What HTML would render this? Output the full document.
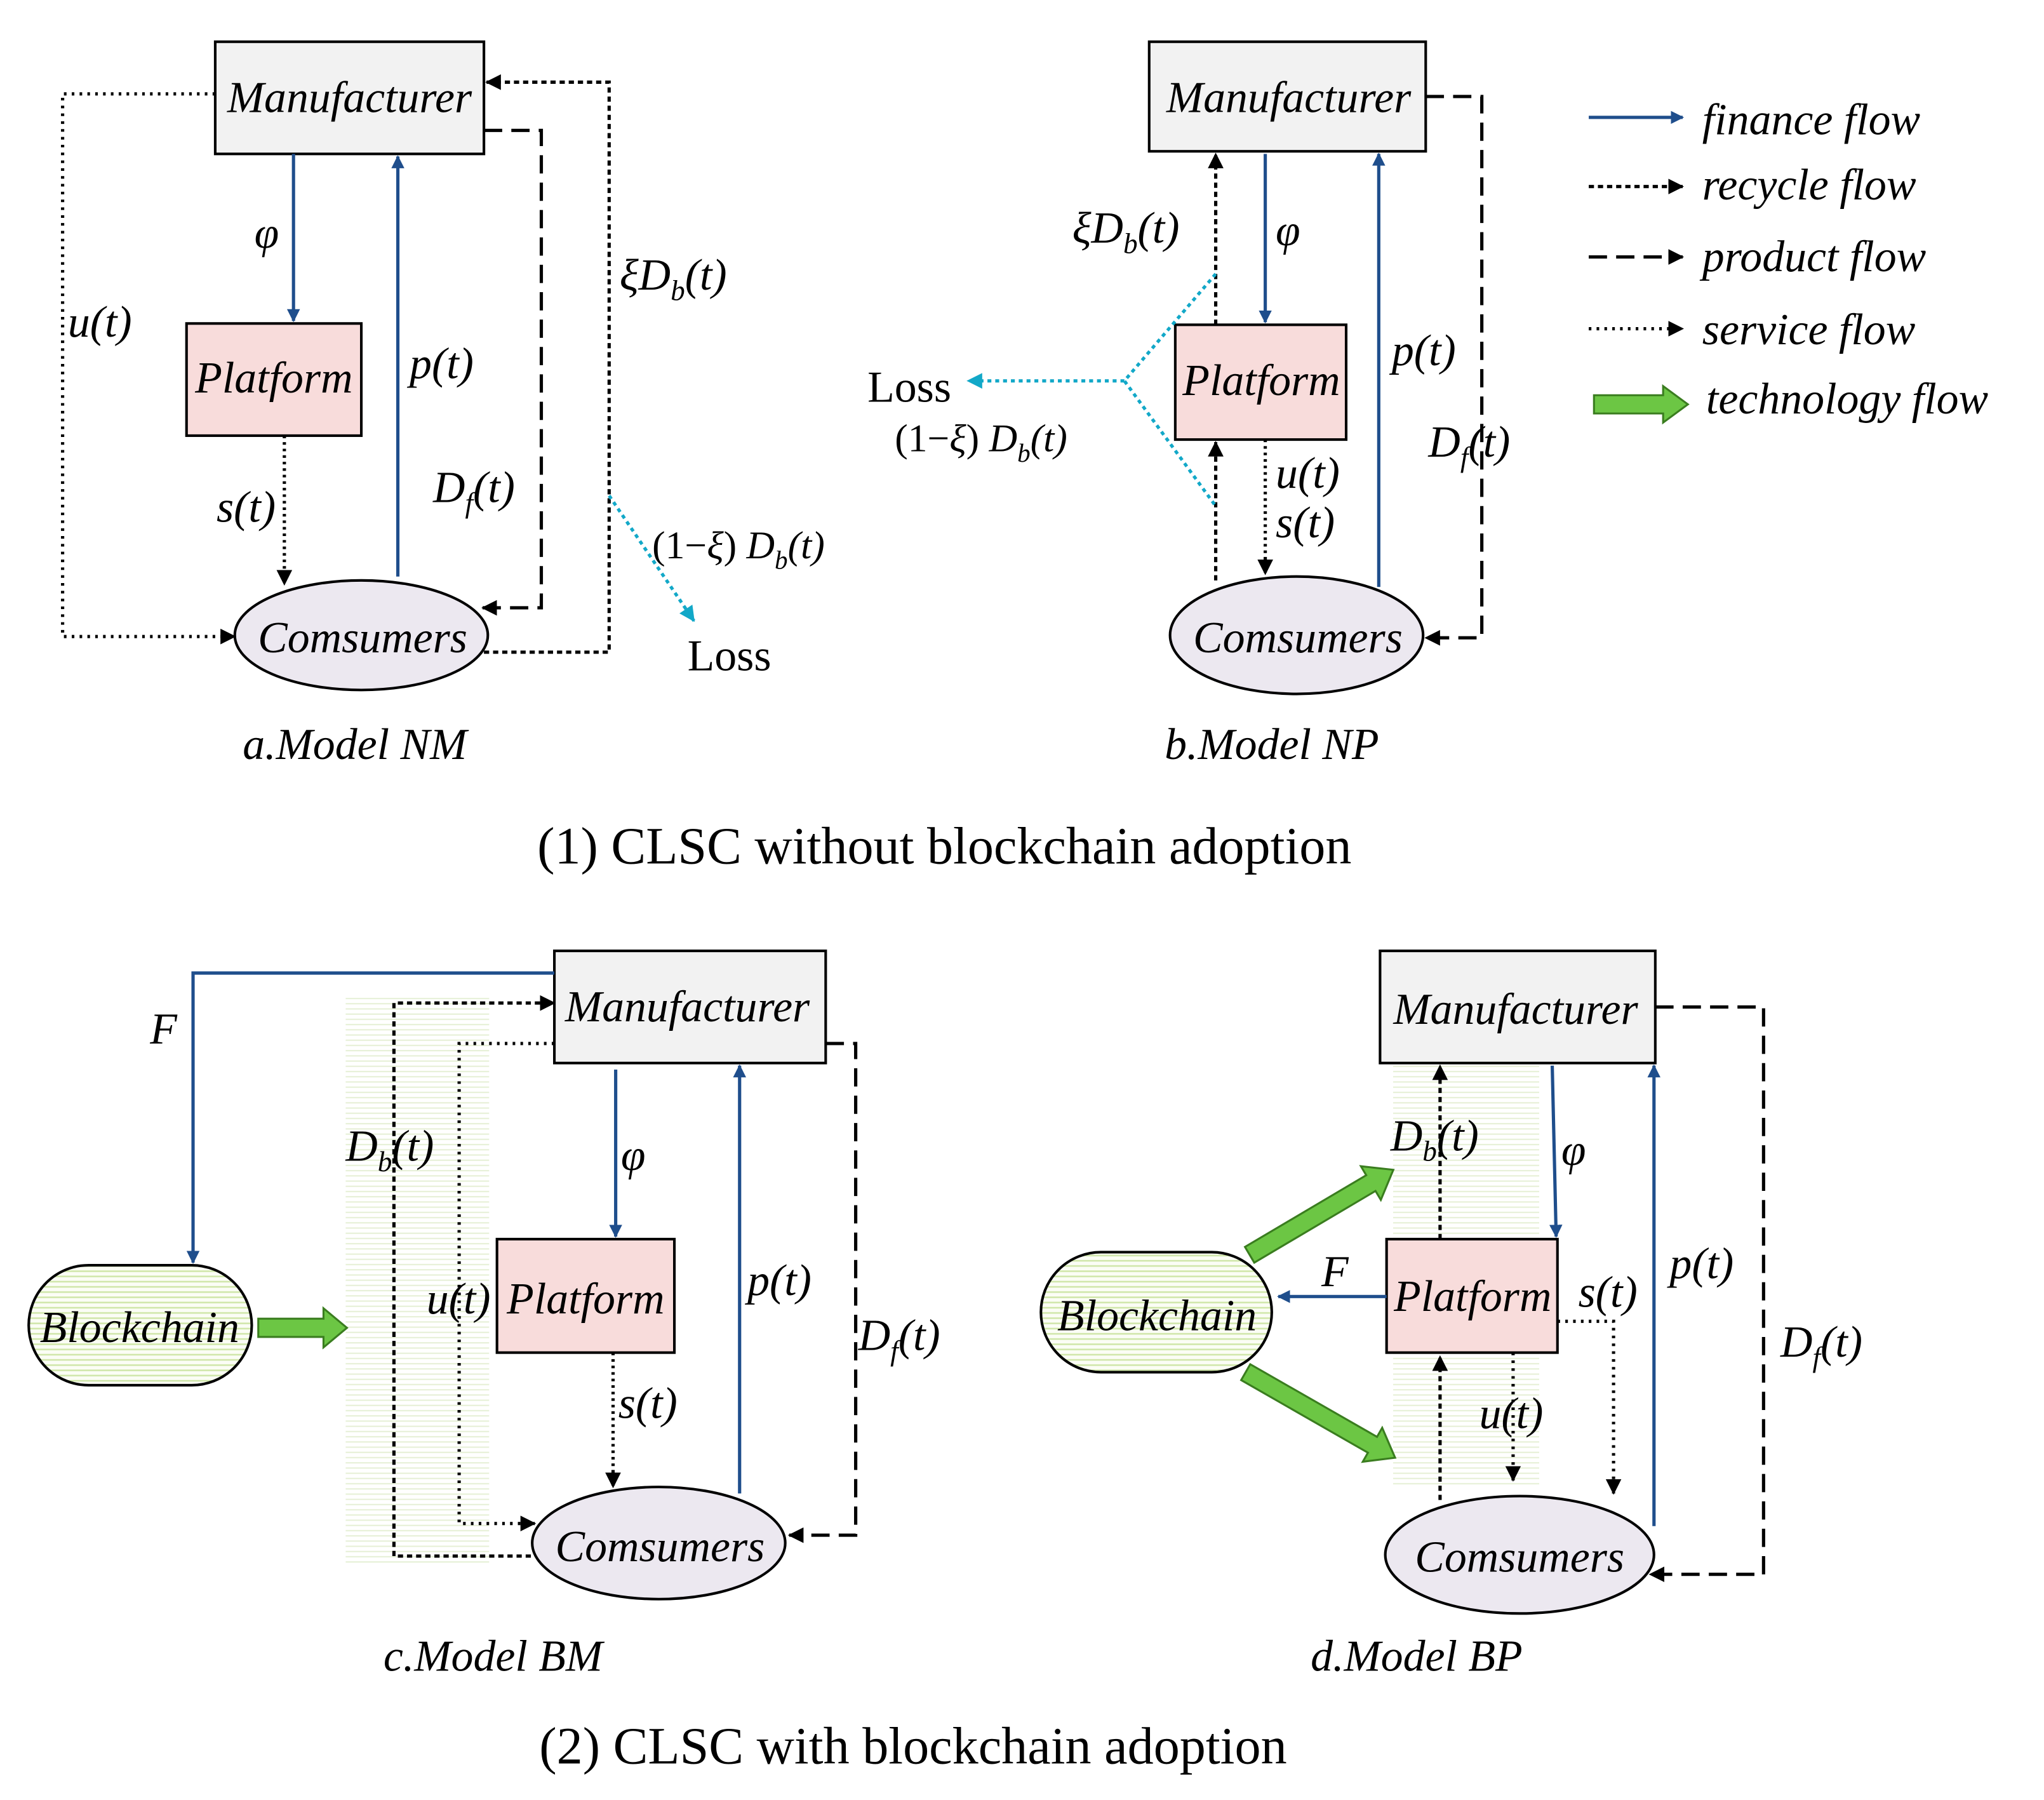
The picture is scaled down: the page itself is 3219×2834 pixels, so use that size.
<!DOCTYPE html>
<html><head><meta charset="utf-8">
<style>
html,body{margin:0;padding:0;background:#fff;}
svg{display:block;}
text{font-family:"Liberation Serif",serif;}
.i{font-style:italic;}
</style></head><body>
<svg width="3219" height="2834" viewBox="0 0 1567 1380" preserveAspectRatio="none" xmlns="http://www.w3.org/2000/svg">
<defs>
<marker id="ab" markerWidth="10" markerHeight="10" refX="9" refY="5" orient="auto" markerUnits="userSpaceOnUse"><path d="M0,0 L10,5 L0,10 z" fill="#1f4e8c"/></marker>
<marker id="ak" markerWidth="12" markerHeight="12" refX="11" refY="6" orient="auto" markerUnits="userSpaceOnUse"><path d="M0,0 L12,6 L0,12 z" fill="#000"/></marker>
<marker id="ac" markerWidth="12" markerHeight="12" refX="11" refY="6" orient="auto" markerUnits="userSpaceOnUse"><path d="M0,0 L12,6 L0,12 z" fill="#12a8c8"/></marker>
<pattern id="st" width="6" height="4" patternUnits="userSpaceOnUse"><rect width="6" height="4" fill="#fbfdf5"/><rect y="2" width="6" height="1.2" fill="#cfe6a8"/></pattern>
<pattern id="sh" width="4" height="4" patternUnits="userSpaceOnUse"><rect width="4" height="4" fill="#fff"/><rect y="1" width="4" height="1" fill="#e6f0d6"/></pattern>
</defs>
<g fill="none" stroke-width="2.5">
<rect x="165" y="32" width="206" height="86" fill="#f2f2f2" stroke="#000" stroke-width="2"/>
<rect x="143" y="248" width="134" height="86" fill="#f8dcdb" stroke="#000" stroke-width="2"/>
<ellipse cx="277" cy="487" rx="97" ry="42" fill="#ece8f0" stroke="#000" stroke-width="2"/>
<line x1="225" y1="118" x2="225" y2="246" stroke="#1f4e8c" marker-end="url(#ab)"/>
<line x1="305" y1="442" x2="305" y2="120" stroke="#1f4e8c" marker-end="url(#ab)"/>
<line x1="218" y1="334" x2="218" y2="448" stroke="#000" stroke-dasharray="2,3" marker-end="url(#ak)"/>
<polyline points="165,72 48,72 48,488 180,488" stroke="#000" stroke-dasharray="2,4" marker-end="url(#ak)"/>
<polyline points="371,100 415,100 415,466 370,466" stroke="#000" stroke-dasharray="14,7" marker-end="url(#ak)"/>
<polyline points="371,500 467,500 467,63 373,63" stroke="#000" stroke-dasharray="4,3" marker-end="url(#ak)"/>
<line x1="467" y1="380" x2="532" y2="476" stroke="#12a8c8" stroke-dasharray="3,3" marker-end="url(#ac)"/>
<rect x="881" y="32" width="212" height="84" fill="#f2f2f2" stroke="#000" stroke-width="2"/>
<rect x="901" y="249" width="131" height="88" fill="#f8dcdb" stroke="#000" stroke-width="2"/>
<ellipse cx="994" cy="487" rx="97" ry="45" fill="#ece8f0" stroke="#000" stroke-width="2"/>
<line x1="932" y1="445" x2="932" y2="339" stroke="#000" stroke-dasharray="4,3" marker-end="url(#ak)"/>
<line x1="932" y1="249" x2="932" y2="118" stroke="#000" stroke-dasharray="4,3" marker-end="url(#ak)"/>
<polyline points="932,210 862,292 932,388" stroke="#12a8c8" stroke-dasharray="3,3"/>
<line x1="862" y1="292" x2="742" y2="292" stroke="#12a8c8" stroke-dasharray="3,3" marker-end="url(#ac)"/>
<line x1="970" y1="118" x2="970" y2="247" stroke="#1f4e8c" marker-end="url(#ab)"/>
<line x1="1057" y1="450" x2="1057" y2="118" stroke="#1f4e8c" marker-end="url(#ab)"/>
<line x1="970" y1="337" x2="970" y2="440" stroke="#000" stroke-dasharray="2,3" marker-end="url(#ak)"/>
<polyline points="1093,74 1136,74 1136,489 1093,489" stroke="#000" stroke-dasharray="14,7" marker-end="url(#ak)"/>
<line x1="1218" y1="90" x2="1290" y2="90" stroke="#1f4e8c" marker-end="url(#ab)"/>
<line x1="1218" y1="143" x2="1290" y2="143" stroke="#000" stroke-dasharray="4,3" marker-end="url(#ak)"/>
<line x1="1218" y1="197" x2="1290" y2="197" stroke="#000" stroke-dasharray="14,7" marker-end="url(#ak)"/>
<line x1="1218" y1="252" x2="1290" y2="252" stroke="#000" stroke-dasharray="2,4" marker-end="url(#ak)"/>
<polygon points="1222,303 1275,303 1275,296 1294,310 1275,324 1275,317 1222,317" fill="#6cc644" stroke="#3a7d1f" stroke-width="1.5"/>
<rect x="265" y="765" width="110" height="435" fill="url(#sh)" stroke="none"/>
<rect x="425" y="729" width="208" height="86" fill="#f2f2f2" stroke="#000" stroke-width="2"/>
<rect x="381" y="950" width="136" height="87" fill="#f8dcdb" stroke="#000" stroke-width="2"/>
<ellipse cx="505" cy="1183" rx="97" ry="43" fill="#ece8f0" stroke="#000" stroke-width="2"/>
<rect x="22" y="970" width="171" height="92" rx="46" fill="url(#st)" stroke="#000" stroke-width="2"/>
<polyline points="425,746 148,746 148,968" stroke="#1f4e8c" marker-end="url(#ab)"/>
<polygon points="198,1011 248,1011 248,1003 266,1018 248,1033 248,1025 198,1025" fill="#6cc644" stroke="#3a7d1f" stroke-width="1.5"/>
<polyline points="407,1193 302,1193 302,769 425,769" stroke="#000" stroke-dasharray="4,3" marker-end="url(#ak)"/>
<polyline points="425,800 352,800 352,1168 410,1168" stroke="#000" stroke-dasharray="2,4" marker-end="url(#ak)"/>
<line x1="472" y1="820" x2="472" y2="948" stroke="#1f4e8c" marker-end="url(#ab)"/>
<line x1="567" y1="1145" x2="567" y2="817" stroke="#1f4e8c" marker-end="url(#ab)"/>
<line x1="470" y1="1037" x2="470" y2="1140" stroke="#000" stroke-dasharray="2,3" marker-end="url(#ak)"/>
<polyline points="633,800 656,800 656,1177 605,1177" stroke="#000" stroke-dasharray="14,7" marker-end="url(#ak)"/>
<rect x="1068" y="815" width="112" height="325" fill="url(#sh)" stroke="none"/>
<rect x="1058" y="729" width="211" height="86" fill="#f2f2f2" stroke="#000" stroke-width="2"/>
<rect x="1063" y="950" width="131" height="87" fill="#f8dcdb" stroke="#000" stroke-width="2"/>
<ellipse cx="1165" cy="1192" rx="103" ry="45" fill="#ece8f0" stroke="#000" stroke-width="2"/>
<rect x="798" y="960" width="177" height="92" rx="46" fill="url(#st)" stroke="#000" stroke-width="2"/>
<line x1="1104" y1="1150" x2="1104" y2="1040" stroke="#000" stroke-dasharray="4,3" marker-end="url(#ak)"/>
<line x1="1104" y1="950" x2="1104" y2="817" stroke="#000" stroke-dasharray="4,3" marker-end="url(#ak)"/>
<line x1="1190" y1="817" x2="1193" y2="948" stroke="#1f4e8c" marker-end="url(#ab)"/>
<line x1="1063" y1="994" x2="980" y2="994" stroke="#1f4e8c" marker-end="url(#ab)"/>
<line x1="1268" y1="1170" x2="1268" y2="817" stroke="#1f4e8c" marker-end="url(#ab)"/>
<polyline points="1194,1013 1237,1013 1237,1145" stroke="#000" stroke-dasharray="2,4" marker-end="url(#ak)"/>
<line x1="1160" y1="1037" x2="1160" y2="1135" stroke="#000" stroke-dasharray="2,4" marker-end="url(#ak)"/>
<polyline points="1269,772 1352,772 1352,1207 1265,1207" stroke="#000" stroke-dasharray="14,7" marker-end="url(#ak)"/>
<g transform="translate(958,962) rotate(-30.6)"><polygon points="0,-7 108,-7 108,-15 128,0 108,15 108,7 0,7" fill="#6cc644" stroke="#3a7d1f" stroke-width="1.5"/></g>
<g transform="translate(955,1052) rotate(29.8)"><polygon points="0,-7 112,-7 112,-15 132,0 112,15 112,7 0,7" fill="#6cc644" stroke="#3a7d1f" stroke-width="1.5"/></g>
</g>
<g fill="#000" font-size="34">
<text x="268" y="86" text-anchor="middle" class="i">Manufacturer</text>
<text x="210" y="301" text-anchor="middle" class="i">Platform</text>
<text x="278" y="500" text-anchor="middle" class="i">Comsumers</text>
<text x="195" y="190" class="i">φ</text>
<text x="52" y="258" class="i">u(t)</text>
<text x="314" y="290" class="i">p(t)</text>
<text x="166" y="400" class="i">s(t)</text>
<text x="332" y="385" class="i">D<tspan font-size="22" dy="8">f</tspan><tspan dy="-8">(t)</tspan></text>
<text x="475" y="222" class="i">ξD<tspan font-size="22" dy="8">b</tspan><tspan dy="-8">(t)</tspan></text>
<text x="500" y="428" font-size="30">(1−<tspan class="i">ξ</tspan>)<tspan class="i"> D</tspan><tspan class="i" font-size="20" dy="8">b</tspan><tspan dy="-8" class="i">(t)</tspan></text>
<text x="527" y="514">Loss</text>
<text x="272" y="582" text-anchor="middle" class="i">a.Model NM</text>
<text x="988" y="86" text-anchor="middle" class="i">Manufacturer</text>
<text x="967" y="303" text-anchor="middle" class="i">Platform</text>
<text x="995" y="500" text-anchor="middle" class="i">Comsumers</text>
<text x="978" y="188" class="i">φ</text>
<text x="822" y="186" class="i">ξD<tspan font-size="22" dy="8">b</tspan><tspan dy="-8">(t)</tspan></text>
<text x="665" y="308">Loss</text>
<text x="686" y="346" font-size="30">(1−<tspan class="i">ξ</tspan>)<tspan class="i"> D</tspan><tspan class="i" font-size="20" dy="8">b</tspan><tspan dy="-8" class="i">(t)</tspan></text>
<text x="978" y="374" class="i">u(t)</text>
<text x="978" y="412" class="i">s(t)</text>
<text x="1067" y="280" class="i">p(t)</text>
<text x="1095" y="350" class="i">D<tspan font-size="22" dy="8">f</tspan><tspan dy="-8">(t)</tspan></text>
<text x="975" y="582" text-anchor="middle" class="i">b.Model NP</text>
<text x="1305" y="103" class="i">finance flow</text>
<text x="1305" y="153" class="i">recycle flow</text>
<text x="1305" y="208" class="i">product flow</text>
<text x="1305" y="264" class="i">service flow</text>
<text x="1308" y="317" class="i">technology flow</text>
<text x="724" y="662" text-anchor="middle" font-size="40">(1) CLSC without blockchain adoption</text>
<text x="527" y="783" text-anchor="middle" class="i">Manufacturer</text>
<text x="449" y="1007" text-anchor="middle" class="i">Platform</text>
<text x="506" y="1197" text-anchor="middle" class="i">Comsumers</text>
<text x="107" y="1029" text-anchor="middle" class="i">Blockchain</text>
<text x="115" y="800" class="i">F</text>
<text x="476" y="897" class="i">φ</text>
<text x="265" y="890" class="i">D<tspan font-size="22" dy="8">b</tspan><tspan dy="-8">(t)</tspan></text>
<text x="327" y="1007" class="i">u(t)</text>
<text x="573" y="993" class="i">p(t)</text>
<text x="474" y="1087" class="i">s(t)</text>
<text x="658" y="1035" class="i">D<tspan font-size="22" dy="8">f</tspan><tspan dy="-8">(t)</tspan></text>
<text x="378" y="1281" text-anchor="middle" class="i">c.Model BM</text>
<text x="1162" y="785" text-anchor="middle" class="i">Manufacturer</text>
<text x="1129" y="1005" text-anchor="middle" class="i">Platform</text>
<text x="1165" y="1205" text-anchor="middle" class="i">Comsumers</text>
<text x="887" y="1020" text-anchor="middle" class="i">Blockchain</text>
<text x="1013" y="986" class="i">F</text>
<text x="1197" y="893" class="i">φ</text>
<text x="1066" y="882" class="i">D<tspan font-size="22" dy="8">b</tspan><tspan dy="-8">(t)</tspan></text>
<text x="1210" y="1002" class="i">s(t)</text>
<text x="1134" y="1095" class="i">u(t)</text>
<text x="1280" y="980" class="i">p(t)</text>
<text x="1365" y="1040" class="i">D<tspan font-size="22" dy="8">f</tspan><tspan dy="-8">(t)</tspan></text>
<text x="1086" y="1281" text-anchor="middle" class="i">d.Model BP</text>
<text x="700" y="1352" text-anchor="middle" font-size="40">(2) CLSC with blockchain adoption</text>
</g>
</svg>
</body></html>
